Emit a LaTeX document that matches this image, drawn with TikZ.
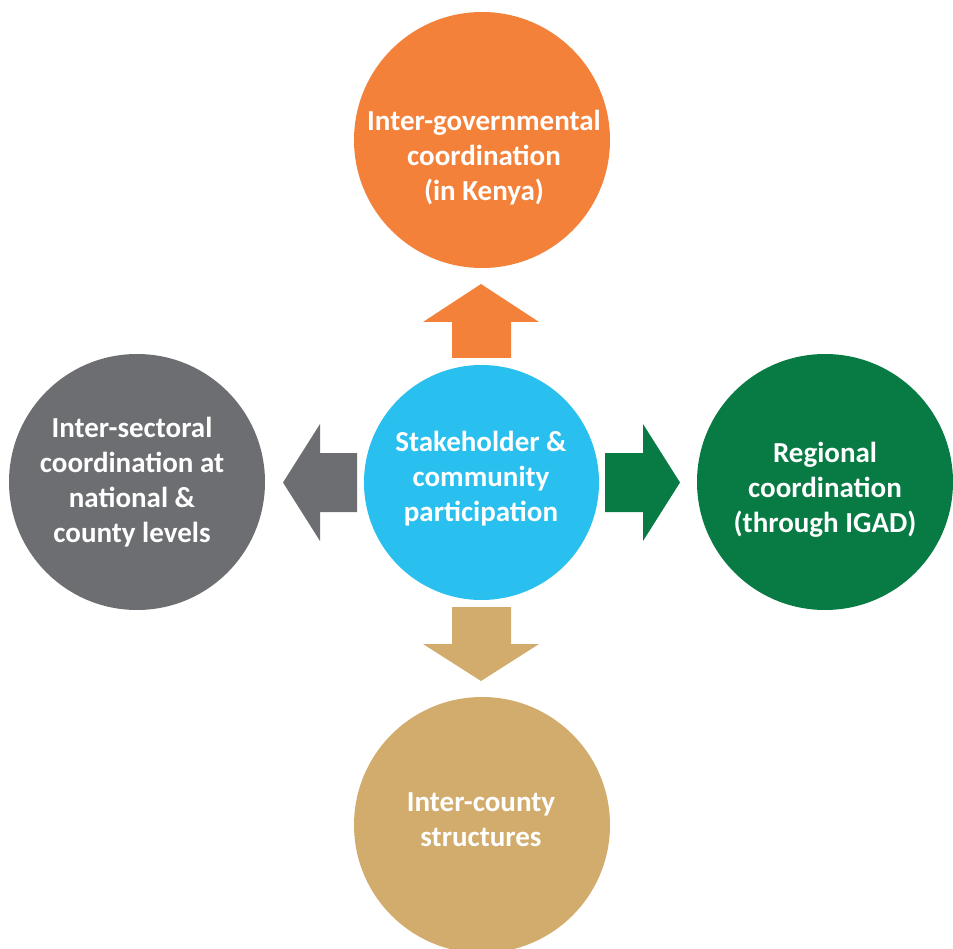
\documentclass[tikz,border=0pt]{standalone}
\usepackage{fontspec}
\setmainfont{Carlito}[Ligatures=Common]
\definecolor{corange}{HTML}{F4813A}
\definecolor{cgray}{HTML}{6D6E71}
\definecolor{cblue}{HTML}{29BFEF}
\definecolor{cgreen}{HTML}{077B43}
\definecolor{ctan}{HTML}{D1AC6C}
\begin{document}
\begin{tikzpicture}[x=1pt,y=-1pt,
  disc/.style={circle,inner sep=0pt,minimum size=#1},
  lbl/.style={text=white,align=center,font=\bfseries\fontsize{29}{35}\selectfont,inner sep=0pt}]
\useasboundingbox (0,0) rectangle (953,949);
% circles
\node[disc=256pt,fill=corange] (top) at (482,140) {};
\node[disc=256pt,fill=cgray] (left) at (137,482) {};
\node[disc=256pt,fill=cgreen] (right) at (825,482) {};
\node[disc=256pt,fill=ctan] (bottom) at (482,825) {};
\node[disc=235pt,fill=cblue] (center) at (481.5,482.5) {};
% arrows
\fill[corange] (452,358) -- (452,322) -- (423,322) -- (481,284) -- (539,322) -- (511,322) -- (511,358) -- cycle;
\fill[cgray] (357,453) -- (320,453) -- (320,424) -- (283,482.5) -- (320,541) -- (320,512) -- (357,512) -- cycle;
\fill[cgreen] (605,453) -- (643,453) -- (643,424) -- (680,482.5) -- (643,541) -- (643,512) -- (605,512) -- cycle;
\fill[ctan] (452,607) -- (452,644) -- (423,644) -- (481,681) -- (539,644) -- (511,644) -- (511,607) -- cycle;
% labels
\node[lbl] (ttop) at (484,158) {Inter-governmental\\coordination\\(in Kenya)};
\node[lbl] (tleft) at (132,482) {Inter-sectoral\\coordination at\\national \&\\county levels};
\node[lbl] (tcenter) at (481,479) {Stakeholder \&\\community\\participation};
\node[lbl] (tright) at (825,490) {Regional\\coordination\\(through IGAD)};
\node[lbl] (tbottom) at (481,820) {Inter-county\\structures};
\end{tikzpicture}
\end{document}
